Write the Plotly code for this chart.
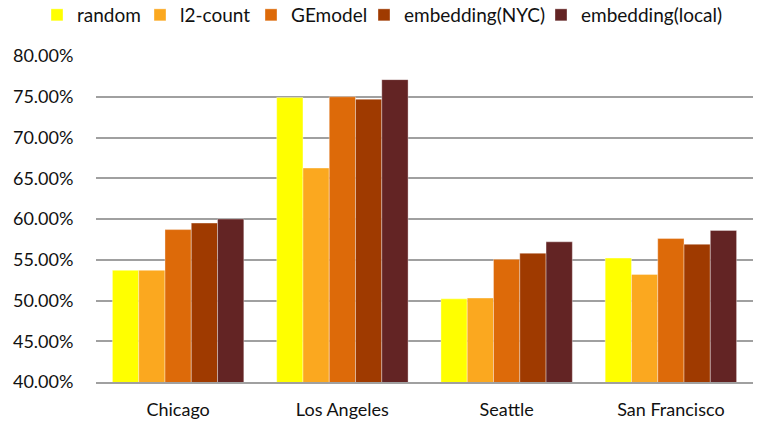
import plotly.graph_objects as go

cities = ["Chicago", "Los Angeles", "Seattle", "San Francisco"]
series_names = ["random", "l2-count", "GEmodel", "embedding(NYC)", "embedding(local)"]
random_vals = [0.537, 0.749, 0.502, 0.552]
l2_count_vals = [0.537, 0.6625, 0.503, 0.532]
gemodel_vals = [0.587, 0.750, 0.5505, 0.576]
emb_nyc_vals = [0.595, 0.747, 0.558, 0.569]
emb_local_vals = [0.600, 0.771, 0.572, 0.586]
colors = ["#FFFF00", "#FBA81F", "#DD6A09", "#9F3A00", "#632424"]

all_vals = [random_vals, l2_count_vals, gemodel_vals, emb_nyc_vals, emb_local_vals]
legend_x_px = [37, 140, 251, 364, 541]

W, H = 760, 423
font_family = "Lato, Open Sans, sans-serif"

fig = go.Figure()
legend_layouts = {}
for i, (name, vals, c) in enumerate(zip(series_names, all_vals, colors)):
    lg = "legend" if i == 0 else f"legend{i+1}"
    fig.add_trace(go.Bar(x=cities, y=vals, name=name, legend=lg,
                         marker=dict(color=c, line=dict(width=0.6, color="rgba(255,255,255,0.6)"))))
    legend_layouts[lg] = dict(orientation="h", xref="container", yref="container",
                              x=legend_x_px[i] / W, xanchor="left",
                              y=1 - 15 / H, yanchor="middle",
                              font=dict(size=19), itemwidth=30, borderwidth=0,
                              bgcolor="rgba(0,0,0,0)")

fig.update_layout(
    width=W, height=H,
    margin=dict(l=96, r=7, t=56, b=41),
    plot_bgcolor="white", paper_bgcolor="white",
    barmode="group", bargap=0.2, bargroupgap=0,
    font=dict(family=font_family, size=18, color="#111"),
    showlegend=True,
    **legend_layouts,
)
fig.update_yaxes(range=[0.40, 0.80], dtick=0.05, tickformat=".2%", showgrid=True,
                 gridcolor="#A0A0A0", gridwidth=1.5, zeroline=False,
                 ticks="outside", ticklen=18, tickcolor="rgba(0,0,0,0)",
                 showline=False, automargin=False)
fig.update_xaxes(showline=True, linecolor="#A0A0A0", linewidth=1.5,
                 ticks="outside", ticklen=11, tickcolor="rgba(0,0,0,0)",
                 automargin=False)

fig.write_html("out.html")
